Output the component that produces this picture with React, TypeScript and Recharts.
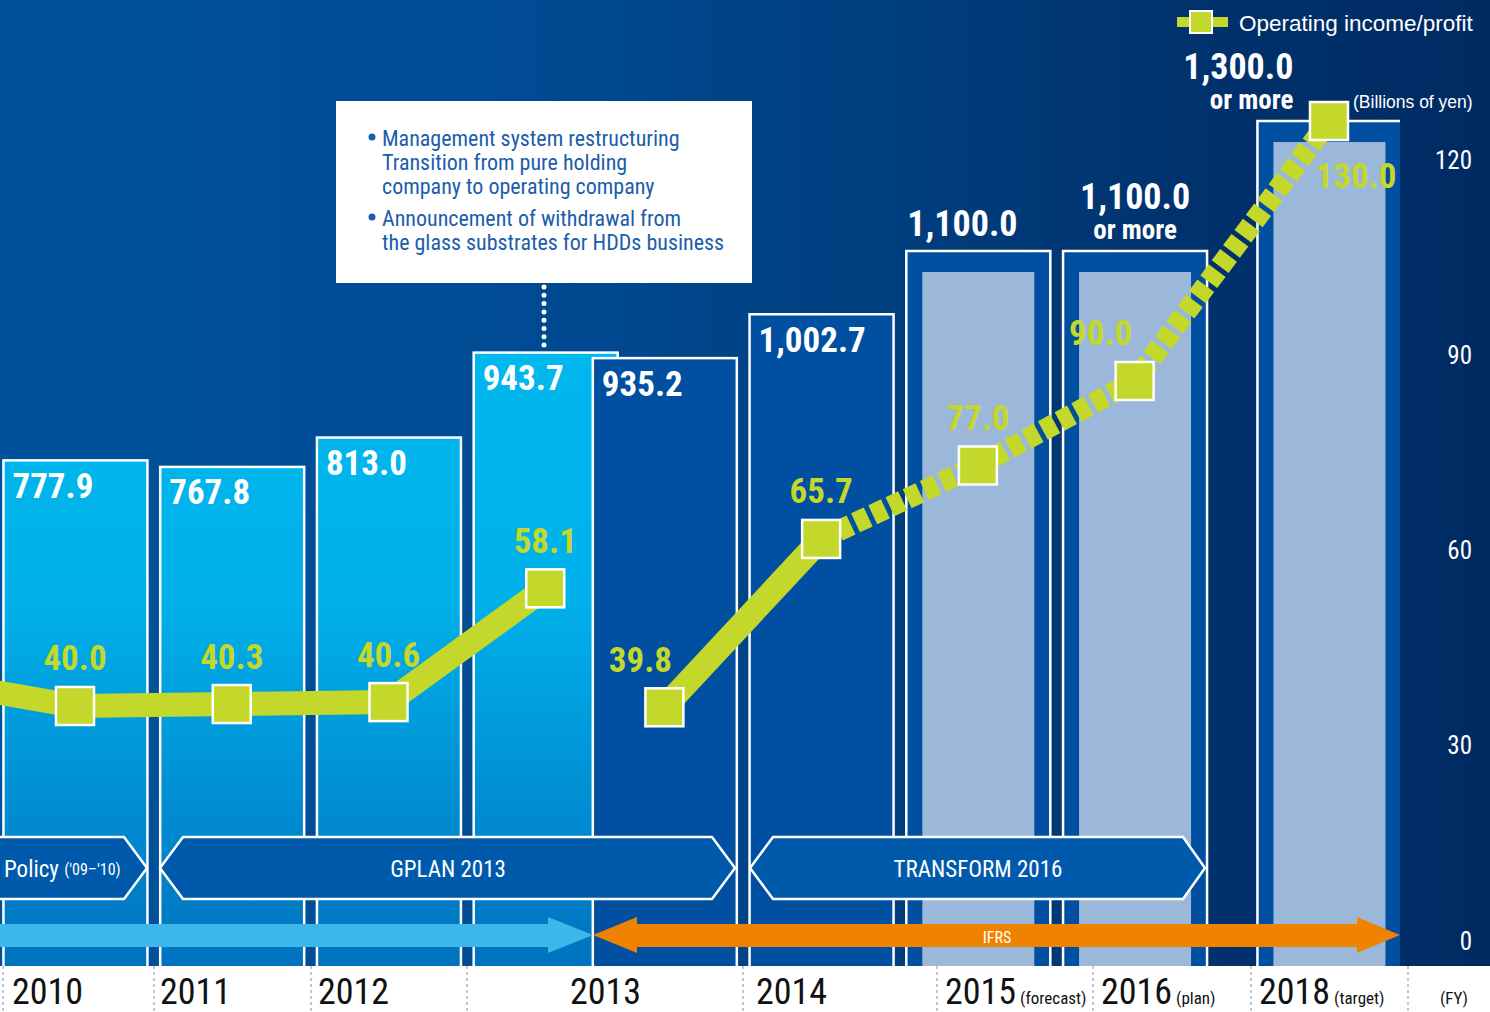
import React from 'react';
import { ComposedChart, Bar, Line, XAxis, YAxis, LabelList } from 'recharts';

// 2009 only feeds the line that runs in from the left edge
const fiscalYears = ['2009', '2010', '2011', '2012', '2013', '2013', '2014', '2015', '2016', '2018'];
// place of each column on the stretched timeline (year slots)
const timeline = [-1, 0, 1, 2, 3, 3.76, 4.76, 5.76, 6.76, 8];
const basis = ['JGAAP', 'JGAAP', 'JGAAP', 'JGAAP', 'JGAAP', 'IFRS', 'IFRS', 'forecast', 'plan', 'target'];
const revenue = [null, 777.9, 767.8, 813.0, 943.7, 935.2, 1002.7, 1100.0, 1100.0, 1300.0];
const operatingIncome = [44.2, 40.0, 40.3, 40.6, 58.1, 39.8, 65.7, 77.0, 90.0, 130.0];
const incomeTicks = [0, 30, 60, 90, 120];

const fyLabels = ['2010', '2011', '2012', '2013', '2014', '2015', '2016', '2018', ''];
const fyNotes = ['', '', '', '', '', '(forecast)', '(plan)', '(target)', '(FY)'];
const fyLabelX = [12, 160, 318, 570, 756, 945, 1101, 1259, 1440];
const fySeparatorX = [3, 154, 311, 467, 743, 937, 1093, 1251, 1408];

const W = 1490;
const H = 1012;
const BASE = 966;
const BAR_W = 144;
const LIME = '#c3d82b';
const NARROW = "'Liberation Sans Narrow', 'Roboto Condensed', 'DejaVu Sans Condensed', 'Liberation Sans', sans-serif";
const SANS = "'Liberation Sans', Arial, sans-serif";

const lastActual = basis.lastIndexOf('IFRS');
const rows = fiscalYears.map((fy, i) => ({
  fy,
  t: timeline[i],
  basis: basis[i],
  revenue: revenue[i],
  income: operatingIncome[i],
  jgaap: basis[i] === 'JGAAP' ? operatingIncome[i] : null,
  ifrs: basis[i] === 'IFRS' ? operatingIncome[i] : null,
  outlook: i >= lastActual ? operatingIncome[i] : null,
}));
// the bar labels are indexed over the rows that actually have a bar
const barRows = rows.filter((r) => r.revenue != null);

const isOutlook = (b: string) => b === 'forecast' || b === 'plan' || b === 'target';

const SalesBar = (props: any) => {
  const { x, y, width, height, payload } = props;
  if (payload == null || payload.revenue == null) return null;
  const left = x + width / 2 - BAR_W / 2;
  const fill = payload.basis === 'JGAAP' ? 'url(#cyanBar)' : '#004fa0';
  return (
    <g>
      <rect x={left} y={y} width={BAR_W} height={height + 12} fill={fill} stroke="#fff" strokeWidth={2.5} />
      {isOutlook(payload.basis) && (
        <rect x={left + 16} y={y + 21} width={BAR_W - 32} height={height} fill="#9bb7da" />
      )}
    </g>
  );
};

const fmt = (v: number) => v.toLocaleString('en-US', { minimumFractionDigits: 1, maximumFractionDigits: 1 });

const SalesLabel = (props: any) => {
  const { x, y, width, value, index } = props;
  if (value == null) return null;
  const row = barRows[index] ?? rows.find((r) => r.revenue === value);
  const b = row ? row.basis : 'JGAAP';
  const cx = x + width / 2;
  const left = cx - BAR_W / 2;
  const common = { fill: '#fff', fontFamily: NARROW, fontWeight: 700 as const, dominantBaseline: 'central' as const };
  if (b === 'JGAAP' || b === 'IFRS') {
    return <text x={left + 9} y={y + 26} fontSize={35} {...common}>{fmt(value)}</text>;
  }
  if (b === 'forecast') {
    return <text x={left + 1} y={y - 27} fontSize={36} {...common}>{fmt(value)}</text>;
  }
  const anchorX = b === 'plan' ? cx : left + 36;
  const anchor = b === 'plan' ? 'middle' : 'end';
  return (
    <g>
      <text x={anchorX} y={y - 54} fontSize={36} textAnchor={anchor} {...common}>{fmt(value)}</text>
      <text x={anchorX} y={y - 21} fontSize={27} textAnchor={anchor} {...common}>or more</text>
    </g>
  );
};

const Square = (props: any) => {
  const { cx, cy, payload } = props;
  if (payload == null || payload.revenue == null || cy == null) return null;
  return <rect x={cx - 19} y={cy - 19} width={38} height={38} fill={LIME} stroke="#fff" strokeWidth={2.5} />;
};

const incomeNudge: Record<number, [number, number]> = { 5: [-24, 0], 8: [-34, 0], 9: [27, 103] };

const IncomeLabel = (props: any) => {
  const { x, y, value, index } = props;
  if (value == null || rows[index].revenue == null) return null;
  const [dx, dy] = incomeNudge[index] ?? [0, 0];
  return (
    <text x={x + dx} y={y - 47 + dy} textAnchor="middle" dominantBaseline="central" fill={LIME}
      fontFamily={NARROW} fontWeight={700} fontSize={35}>
      {value.toFixed(1)}
    </text>
  );
};

const IncomeTick = (props: any) => (
  <text x={1472} y={props.y - 25} textAnchor="end" dominantBaseline="central" fill="#fff"
    fontFamily={NARROW} fontSize={25}>
    {props.payload.value}
  </text>
);

const Overlay = () => (
  <svg width={W} height={H} style={{ position: 'absolute', left: 0, top: 0, pointerEvents: 'none' }}>
    {/* legend */}
    <line x1={1177} x2={1228} y1={22} y2={22} stroke={LIME} strokeWidth={10} />
    <rect x={1190} y={11} width={22} height={22} fill={LIME} stroke="#fff" strokeWidth={2} />
    <text x={1239} y={23} dominantBaseline="central" fill="#fff" fontFamily={SANS} fontSize={22.5}>Operating income/profit</text>
    <text x={1353} y={102} dominantBaseline="central" fill="#fff" fontFamily={SANS} fontSize={17.5}>(Billions of yen)</text>

    {/* note box */}
    <line x1={544} x2={544} y1={287} y2={352} stroke="#fff" strokeWidth={5} strokeLinecap="round" strokeDasharray="0 8.3" />
    <rect x={336} y={101} width={416} height={182} fill="#fff" />
    <g fill="#1c5dab" fontFamily={NARROW} fontSize={22} dominantBaseline="central">
      <circle cx={372} cy={137} r={3.5} />
      <text x={382} y={138}>Management system restructuring</text>
      <text x={382} y={162}>Transition from pure holding</text>
      <text x={382} y={186}>company to operating company</text>
      <circle cx={372} cy={217} r={3.5} />
      <text x={382} y={218}>Announcement of withdrawal from</text>
      <text x={382} y={242}>the glass substrates for HDDs business</text>
    </g>

    {/* mid-term plan banners */}
    <g fill="#005aab" stroke="#fff" strokeWidth={2.5}>
      <polygon points="-30,837 124,837 147,868 124,899 -30,899" />
      <polygon points="183,837 712,837 735,868 712,899 183,899 160,868" />
      <polygon points="773,837 1183,837 1205,868 1183,899 773,899 750,868" />
    </g>
    <g fill="#fff" fontFamily={NARROW} dominantBaseline="central">
      <text x={4} y={869} fontSize={23}>Policy <tspan fontSize={16}>('09–'10)</tspan></text>
      <text x={448} y={869} fontSize={23} textAnchor="middle">GPLAN 2013</text>
      <text x={978} y={869} fontSize={23} textAnchor="middle">TRANSFORM 2016</text>
    </g>

    {/* accounting standard arrows */}
    <polygon points="-10,924 548,924 548,917 593,935 548,953 548,947 -10,947" fill="#3db6ea" />
    <polygon points="593,935 637,917 637,924 1357,924 1357,917 1400,935 1357,953 1357,947 637,947 637,953" fill="#ef8200" />
    <text x={997} y={937} textAnchor="middle" dominantBaseline="central" fill="#fff" fontFamily={NARROW} fontSize={16}>IFRS</text>

    {/* fiscal year strip */}
    <rect x={0} y={BASE} width={W} height={H - BASE} fill="#fff" />
    {fySeparatorX.map((x) => (
      <line key={x} x1={x} x2={x} y1={BASE} y2={H} stroke="#8c8c8c" strokeWidth={1} strokeDasharray="3 3" />
    ))}
    {fyLabels.map((label, i) => (
      <text key={i} x={fyLabelX[i]} y={1004} fill="#111" fontFamily={NARROW}>
        <tspan fontSize={36}>{label}</tspan>
        {fyNotes[i] && <tspan fontSize={17} dx={label ? 4 : 0}>{fyNotes[i]}</tspan>}
      </text>
    ))}
  </svg>
);

export default function App() {
  return (
    <div
      style={{
        position: 'relative',
        width: W,
        height: H,
        overflow: 'hidden',
        background: 'linear-gradient(90deg, #00519c 0%, #004b94 35%, #003e7e 60%, #00326d 80%, #002a62 100%)',
      }}
    >
      <style>{'body{margin:0}'}</style>
      <ComposedChart width={W} height={H} data={rows} margin={{ top: 0, right: 0, bottom: H - BASE, left: 0 }}>
        <defs>
          <linearGradient id="cyanBar" gradientUnits="userSpaceOnUse" x1={0} y1={350} x2={0} y2={BASE}>
            <stop offset="0" stopColor="#00b7ee" />
            <stop offset="0.4" stopColor="#00b1ea" />
            <stop offset="1" stopColor="#0072bf" />
          </linearGradient>
        </defs>
        <XAxis dataKey="t" type="number" domain={[-0.4785, 8.453]} allowDataOverflow hide />
        <YAxis yAxisId="sales" domain={[0, 1486.15]} allowDataOverflow hide />
        <YAxis
          yAxisId="income"
          orientation="right"
          width={90}
          domain={[0, 148.615]}
          ticks={incomeTicks}
          allowDataOverflow
          axisLine={false}
          tickLine={false}
          tick={<IncomeTick />}
        />
        <Bar yAxisId="sales" dataKey="revenue" barSize={100} shape={<SalesBar />} isAnimationActive={false}>
          <LabelList dataKey="revenue" content={<SalesLabel />} />
        </Bar>
        <Line yAxisId="income" dataKey="jgaap" type="linear" stroke={LIME} strokeWidth={24} dot={false}
          activeDot={false} isAnimationActive={false} />
        <Line yAxisId="income" dataKey="ifrs" type="linear" stroke={LIME} strokeWidth={24} dot={false}
          activeDot={false} isAnimationActive={false} />
        <Line yAxisId="income" dataKey="outlook" type="linear" stroke={LIME} strokeWidth={21} strokeDasharray="14 5"
          dot={false} activeDot={false} isAnimationActive={false} />
        <Line yAxisId="income" dataKey="income" type="linear" stroke="none" dot={<Square />} activeDot={false}
          isAnimationActive={false}>
          <LabelList dataKey="income" content={<IncomeLabel />} />
        </Line>
      </ComposedChart>
      <Overlay />
    </div>
  );
}
